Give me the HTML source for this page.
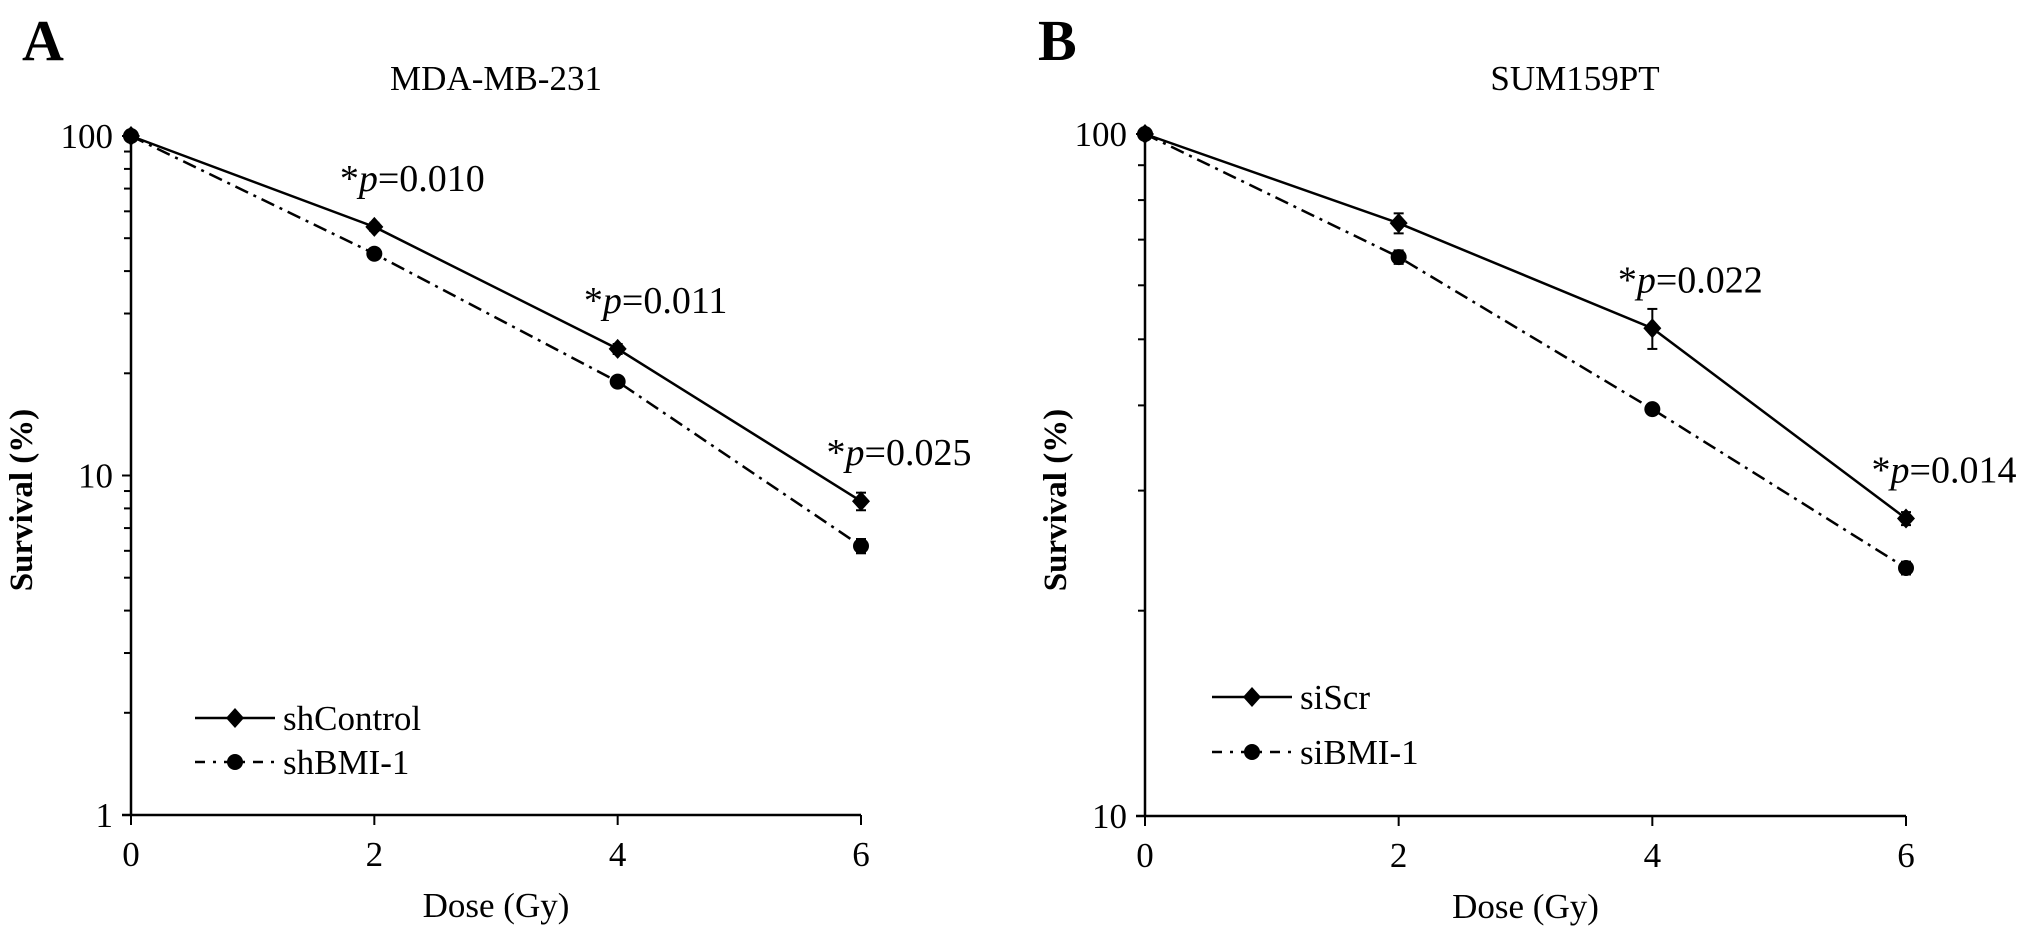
<!DOCTYPE html>
<html><head><meta charset="utf-8"><style>
html,body{margin:0;padding:0;background:#fff;}
svg{display:block;font-family:"Liberation Serif",serif;}
</style></head><body>
<svg id="chart" width="2031" height="933" viewBox="0 0 2031 933">
<text x="22" y="60" font-size="58" font-weight="bold">A</text>
<text x="496" y="90" font-size="35" text-anchor="middle">MDA-MB-231</text>
<text x="1038" y="60" font-size="58" font-weight="bold">B</text>
<text x="1575" y="90" font-size="35" text-anchor="middle">SUM159PT</text>
</svg>
<script>
const doses = [0, 2, 4, 6];
const xTicks = [0, 2, 4, 6];
const aControl = [100, 54, 23.6, 8.4];
const aControlErr = [0, 1.5, 0.8, 0.5];
const aBMI = [100, 45, 18.9, 6.2];
const aBMIErr = [0, 0.8, 0.5, 0.3];
const aYTicks = [1, 10, 100];
const aPLabels = ["", "0.010", "0.011", "0.025"];
const bScr = [100, 74, 51.9, 27.3];
const bScrErr = [0, 2.5, 3.5, 0.6];
const bBMI = [100, 66, 39.5, 23.1];
const bBMIErr = [0, 1.5, 0.5, 0.5];
const bYTicks = [10, 100];
const bPLabels = ["", "", "0.022", "0.014"];

const NS = "http://www.w3.org/2000/svg";
const svg = document.getElementById('chart');
function mk(tag, attrs, parent) {
  const e = document.createElementNS(NS, tag);
  for (const k in attrs) e.setAttribute(k, attrs[k]);
  (parent || svg).appendChild(e);
  return e;
}

function panel(cfg) {
  const g = mk('g', {});
  
  
  const lmin = Math.log10(cfg.ymin), lmax = Math.log10(cfg.ymax);
  const X = d => cfg.x0 + (d - 0) / 6 * (cfg.x6 - cfg.x0);
  const Y = v => cfg.yBot - (Math.log10(v) - lmin) / (lmax - lmin) * (cfg.yBot - cfg.yTop);
  const ya = mk('line', {x1: cfg.x0, y1: cfg.yTop, x2: cfg.x0, y2: cfg.yBot, stroke: '#000', 'stroke-width': 2.5}, g);
  
  
  const xa = mk('line', {x1: cfg.x0 - 9, y1: cfg.yBot, x2: cfg.x6, y2: cfg.yBot, stroke: '#000', 'stroke-width': 2.5}, g);
  
  
  for (let p = lmin; p <= lmax; p++) {
    const v = Math.pow(10, p);
    mk('line', {x1: cfg.x0 - 9, y1: Y(v), x2: cfg.x0, y2: Y(v), stroke: '#000', 'stroke-width': 2}, g);
    if (p < lmax) for (let m = 2; m <= 9; m++) {
      mk('line', {x1: cfg.x0 - 7, y1: Y(v * m), x2: cfg.x0, y2: Y(v * m), stroke: '#000', 'stroke-width': 2}, g);
    }
  }
  cfg.yTicks.forEach(v => {
    const t = mk('text', {x: cfg.x0 - 18, y: Y(v) + 12, 'font-size': 35, 'text-anchor': 'end'}, g);
    t.textContent = v;
    
    
  });
  xTicks.forEach(d => {
    mk('line', {x1: X(d), y1: cfg.yBot, x2: X(d), y2: cfg.yBot + 10, stroke: '#000', 'stroke-width': 2}, g);
    const t = mk('text', {x: X(d), y: cfg.yBot + 51, 'font-size': 35, 'text-anchor': 'middle'}, g);
    t.textContent = d;
    
    
  });
  const xt = mk('text', {x: (cfg.x0 + cfg.x6) / 2, y: cfg.yBot + 102, 'font-size': 35, 'text-anchor': 'middle'}, g);
  xt.textContent = 'Dose (Gy)';
  
  
  const yt = mk('text', {x: cfg.ylx, y: 500, 'font-size': 33, 'font-weight': 'bold', 'text-anchor': 'middle', transform: `rotate(-90 ${cfg.ylx} 500)`}, g);
  yt.textContent = 'Survival (%)';
  
  
  const series = [
    {vals: cfg.s1, err: cfg.e1, dash: null, marker: 'diamond', label: cfg.l1},
    {vals: cfg.s2, err: cfg.e2, dash: '14,6,3,6', marker: 'circle', label: cfg.l2}
  ];
  function marker(type, x, y, parent) {
    if (type === 'diamond') return mk('polygon', {points: `${x},${y-10} ${x+9},${y} ${x},${y+10} ${x-9},${y}`, fill: '#000'}, parent);
    return mk('circle', {cx: x, cy: y, r: 8, fill: '#000'}, parent);
  }
  series.forEach((s, si) => {
    const pts = doses.map((d, i) => X(d) + ',' + Y(s.vals[i])).join(' ');
    const pl = mk('polyline', {points: pts, fill: 'none', stroke: '#000', 'stroke-width': 2.5}, g);
    if (s.dash) pl.setAttribute('stroke-dasharray', s.dash);
    
    
    doses.forEach((d, i) => {
      if (s.err[i] > 0) {
        const yh = Y(s.vals[i] + s.err[i]), yl = Y(s.vals[i] - s.err[i]);
        mk('line', {x1: X(d), y1: yh, x2: X(d), y2: yl, stroke: '#000', 'stroke-width': 2}, g);
        mk('line', {x1: X(d) - 5, y1: yh, x2: X(d) + 5, y2: yh, stroke: '#000', 'stroke-width': 2}, g);
        mk('line', {x1: X(d) - 5, y1: yl, x2: X(d) + 5, y2: yl, stroke: '#000', 'stroke-width': 2}, g);
      }
      const m = marker(s.marker, X(d), Y(s.vals[i]), g);
      
      
    });
    const ly = cfg.legY[si];
    const ll = mk('line', {x1: cfg.legX, y1: ly, x2: cfg.legX + 80, y2: ly, stroke: '#000', 'stroke-width': 2.5}, g);
    if (s.dash) ll.setAttribute('stroke-dasharray', '10,8,3,8');
    
    
    marker(s.marker, cfg.legX + 40, ly, g);
    const lt = mk('text', {x: cfg.legX + 88, y: ly + 12, 'font-size': 35}, g);
    lt.textContent = s.label;
    
    
  });
  cfg.p.forEach((p, i) => {
    if (!p) return;
    const t = mk('text', {x: X(doses[i]) + 38, y: Y(cfg.s1[i]) - 36, 'font-size': 38, 'text-anchor': 'middle'}, g);
    t.innerHTML = '*<tspan font-style="italic">p</tspan>=' + p;
    
    
  });
}

panel({name: 'panel-a-chart', x0: 131, x6: 861, yTop: 136, yBot: 815, ymin: 1, ymax: 100,
  yTicks: aYTicks, s1: aControl, e1: aControlErr, s2: aBMI, e2: aBMIErr,
  l1: 'shControl', l2: 'shBMI-1', legX: 195, legY: [718, 762], p: aPLabels, ylx: 32});
panel({name: 'panel-b-chart', x0: 1145, x6: 1906, yTop: 134, yBot: 816, ymin: 10, ymax: 100,
  yTicks: bYTicks, s1: bScr, e1: bScrErr, s2: bBMI, e2: bBMIErr,
  l1: 'siScr', l2: 'siBMI-1', legX: 1212, legY: [697, 752], p: bPLabels, ylx: 1066});
</script>
</body></html>
